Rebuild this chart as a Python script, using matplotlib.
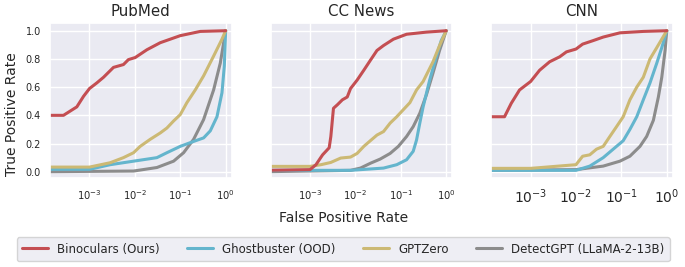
import matplotlib.pyplot as plt
import seaborn as sns

# ROC curves (fpr, tpr) per dataset
methods = ["Binoculars (Ours)", "Ghostbuster (OOD)", "GPTZero", "DetectGPT (LLaMA-2-13B)"]
colors = ["#c44e52", "#64b5cd", "#ccb974", "#8c8c8c"]
datasets = ["PubMed", "CC News", "CNN"]

# PubMed
pub_bino_fpr = [1e-4, 2.67e-4, 5.26e-4, 7.4e-4, 1e-3, 1.45e-3, 2.04e-3, 3.38e-3, 5.6e-3, 7.2e-3, 0.0102, 0.0184, 0.0362, 0.1, 0.276, 1.0]
pub_bino_tpr = [0.40, 0.40, 0.46, 0.535, 0.59, 0.63, 0.67, 0.74, 0.76, 0.795, 0.81, 0.865, 0.915, 0.965, 0.995, 1.0]
pub_ghost_fpr = [1e-4, 1e-3, 2.86e-3, 9.35e-3, 0.0306, 0.0508, 0.1, 0.197, 0.327, 0.459, 0.644, 0.830, 0.935, 1.0]
pub_ghost_tpr = [0.017, 0.017, 0.05, 0.075, 0.10, 0.135, 0.18, 0.215, 0.24, 0.29, 0.39, 0.56, 0.75, 1.0]
pub_gptz_fpr = [1e-4, 1e-3, 2.86e-3, 5.6e-3, 9.35e-3, 0.0131, 0.0218, 0.0362, 0.0508, 0.0713, 0.1, 0.140, 0.214, 0.327, 0.543, 0.830, 1.0]
pub_gptz_tpr = [0.033, 0.033, 0.064, 0.10, 0.135, 0.18, 0.23, 0.275, 0.31, 0.36, 0.405, 0.49, 0.58, 0.68, 0.82, 0.94, 1.0]
pub_dgpt_fpr = [1e-4, 9.35e-3, 0.0306, 0.0713, 0.1185, 0.197, 0.327, 0.543, 0.762, 1.0]
pub_dgpt_tpr = [0.0, 0.005, 0.03, 0.075, 0.135, 0.23, 0.37, 0.58, 0.77, 1.0]

# CC News
cc_bino_fpr = [1e-4, 1e-3, 1.35e-3, 1.89e-3, 2.64e-3, 2.87e-3, 3.28e-3, 4.0e-3, 5.15e-3, 6.6e-3, 7.8e-3, 0.0109, 0.0153, 0.0213, 0.0298, 0.0416, 0.0687, 0.134, 0.366, 1.0]
cc_bino_tpr = [0.01, 0.015, 0.05, 0.12, 0.17, 0.25, 0.45, 0.475, 0.51, 0.53, 0.59, 0.65, 0.72, 0.79, 0.86, 0.895, 0.94, 0.975, 0.99, 1.0]
cc_ghost_fpr = [1e-4, 7.8e-3, 0.0416, 0.0813, 0.134, 0.1875, 0.222, 0.262, 0.310, 0.432, 0.604, 0.776, 1.0]
cc_ghost_tpr = [0.01, 0.01, 0.026, 0.05, 0.085, 0.145, 0.225, 0.345, 0.46, 0.65, 0.815, 0.93, 1.0]
cc_gptz_fpr = [1e-4, 1e-3, 1.74e-3, 2.87e-3, 4.73e-3, 7.8e-3, 0.0109, 0.0153, 0.0213, 0.0298, 0.0416, 0.0582, 0.0813, 0.1135, 0.1585, 0.222, 0.310, 0.512, 0.714, 1.0]
cc_gptz_tpr = [0.038, 0.038, 0.05, 0.066, 0.097, 0.104, 0.13, 0.18, 0.22, 0.26, 0.285, 0.345, 0.39, 0.44, 0.49, 0.58, 0.64, 0.78, 0.895, 1.0]
cc_dgpt_fpr = [1e-4, 7.8e-3, 0.0129, 0.0213, 0.0352, 0.0582, 0.0883, 0.134, 0.1875, 0.262, 0.366, 0.512, 0.714, 1.0]
cc_dgpt_tpr = [0.0, 0.01, 0.026, 0.06, 0.09, 0.13, 0.18, 0.25, 0.32, 0.415, 0.545, 0.70, 0.86, 1.0]

# CNN
cnn_bino_fpr = [1e-4, 2.66e-4, 3.74e-4, 5.7e-4, 1e-3, 1.58e-3, 2.63e-3, 4.37e-3, 6.15e-3, 0.01, 0.014, 0.0239, 0.0398, 0.0929, 0.304, 1.0]
cnn_bino_tpr = [0.39, 0.39, 0.485, 0.58, 0.64, 0.72, 0.78, 0.815, 0.85, 0.87, 0.905, 0.93, 0.955, 0.985, 0.995, 1.0]
cnn_ghost_fpr = [1e-4, 0.01, 0.0201, 0.0398, 0.066, 0.1097, 0.154, 0.218, 0.304, 0.427, 0.602, 0.776, 1.0]
cnn_ghost_tpr = [0.01, 0.01, 0.04, 0.10, 0.16, 0.22, 0.30, 0.39, 0.51, 0.63, 0.77, 0.88, 1.0]
cnn_gptz_fpr = [1e-4, 1e-3, 0.01, 0.014, 0.0201, 0.0283, 0.0398, 0.0557, 0.0783, 0.1097, 0.154, 0.218, 0.304, 0.427, 0.602, 0.776, 1.0]
cnn_gptz_tpr = [0.024, 0.024, 0.05, 0.11, 0.12, 0.16, 0.18, 0.25, 0.32, 0.39, 0.51, 0.60, 0.67, 0.80, 0.88, 0.94, 1.0]
cnn_dgpt_fpr = [1e-4, 0.01, 0.0398, 0.0929, 0.154, 0.257, 0.36, 0.507, 0.653, 0.776, 0.918, 1.0]
cnn_dgpt_tpr = [0.01, 0.015, 0.04, 0.075, 0.11, 0.18, 0.25, 0.365, 0.53, 0.67, 0.86, 1.0]

curves = [
    [(pub_bino_fpr, pub_bino_tpr), (pub_ghost_fpr, pub_ghost_tpr), (pub_gptz_fpr, pub_gptz_tpr), (pub_dgpt_fpr, pub_dgpt_tpr)],
    [(cc_bino_fpr, cc_bino_tpr), (cc_ghost_fpr, cc_ghost_tpr), (cc_gptz_fpr, cc_gptz_tpr), (cc_dgpt_fpr, cc_dgpt_tpr)],
    [(cnn_bino_fpr, cnn_bino_tpr), (cnn_ghost_fpr, cnn_ghost_tpr), (cnn_gptz_fpr, cnn_gptz_tpr), (cnn_dgpt_fpr, cnn_dgpt_tpr)],
]
xtick_sizes = [7.2, 7.2, 10]

sns.set_theme(style="darkgrid")
plt.rcParams['font.family'] = ['DejaVu Sans']

fig, axes = plt.subplots(1, 3, figsize=(6.85, 2.67), dpi=100, sharey=True)
fig.subplots_adjust(left=0.073, right=0.982, top=0.914, bottom=0.333, wspace=0.215)

# draw order: gray under, red on top
order = [3, 1, 2, 0]
for ax, name, dcurves, fs in zip(axes, datasets, curves, xtick_sizes):
    for i in order:
        fpr, tpr = dcurves[i]
        ax.plot(fpr, tpr, color=colors[i], lw=2.2, label=methods[i])
    ax.set_xscale('log')
    ax.set_xlim(10 ** -3.87, 10 ** 0.13)
    ax.set_ylim(-0.045, 1.055)
    ax.set_xticks([1e-3, 1e-2, 1e-1, 1e0])
    ax.minorticks_off()
    ax.set_yticks([0, 0.2, 0.4, 0.6, 0.8, 1.0])
    # ticks are hidden in darkgrid, so keep the offsets small
    ax.tick_params(axis='x', labelsize=fs, size=0, pad=7)
    ax.tick_params(axis='y', labelsize=7, size=0, pad=6.5)
    ax.set_title(name, fontsize=10.8, pad=5)

axes[0].set_ylabel("True Positive Rate", fontsize=10)
axes[0].yaxis.set_label_coords(-0.17, 0.41)
fig.text(0.501, 0.184, "False Positive Rate", ha='center', va='center', fontsize=10)

handles, labels = axes[0].get_legend_handles_labels()
by_label = dict(zip(labels, handles))
fig.legend([by_label[m] for m in methods], methods, loc='center', ncol=4,
           bbox_to_anchor=(0.501, 0.067), frameon=True, fontsize=8.5,
           handlelength=2.2, handletextpad=0.75, columnspacing=2.35, borderpad=0.45)

plt.savefig("out.png", dpi=100)
plt.close()
